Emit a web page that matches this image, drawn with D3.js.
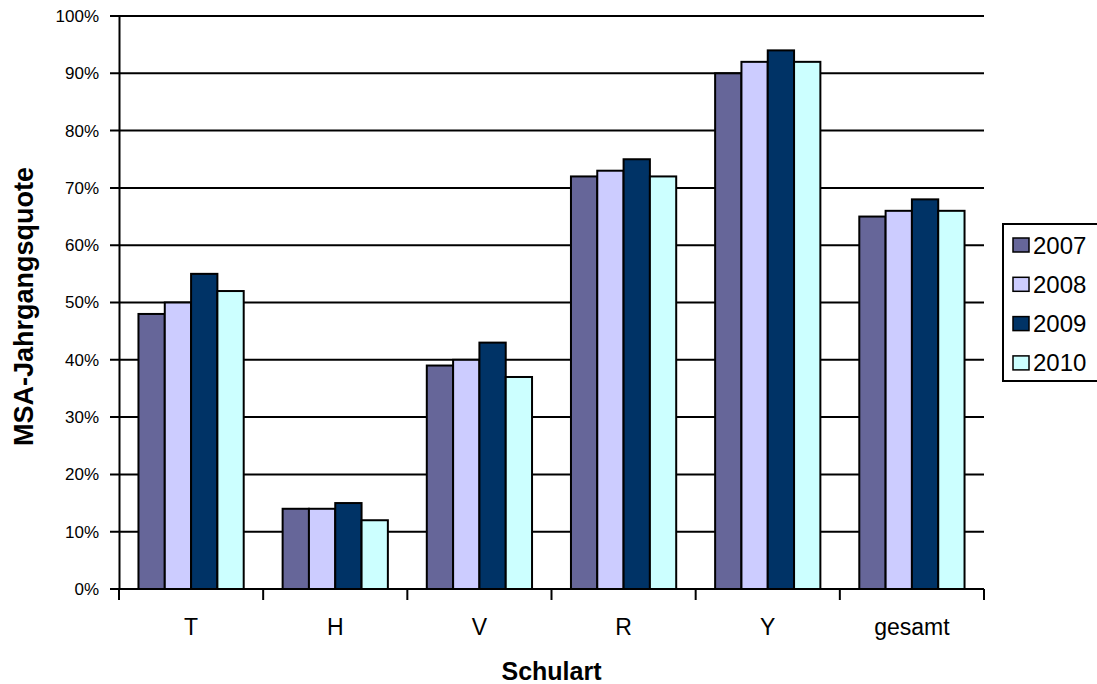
<!DOCTYPE html>
<html>
<head>
<meta charset="utf-8">
<script src="https://cdn.jsdelivr.net/npm/d3@7"></script>
<style>
  body { margin: 0; background: #fff; }
  svg { font-family: Arial, "Liberation Sans", sans-serif; }
</style>
</head>
<body>
<div id="chart"></div>
<script>
const categories = ['T', 'H', 'V', 'R', 'Y', 'gesamt'];
const years = ['2007', '2008', '2009', '2010'];
const v2007 = [48, 14, 39, 72, 90, 65];
const v2008 = [50, 14, 40, 73, 92, 66];
const v2009 = [55, 15, 43, 75, 94, 68];
const v2010 = [52, 12, 37, 72, 92, 66];
const yTicks = [0, 10, 20, 30, 40, 50, 60, 70, 80, 90, 100];

const seriesValues = [v2007, v2008, v2009, v2010];
const colors = ['#666699', '#CCCCFF', '#003366', '#CCFFFF'];

const svgWidth = 1097, svgHeight = 684;
const plotLeft = 119, plotRight = 984, plotTop = 16, plotBottom = 589;
const fontFamily = 'Arial, "Liberation Sans", sans-serif';

const svg = d3.select('#chart').append('svg')
  .attr('width', svgWidth)
  .attr('height', svgHeight);

const x = d3.scaleBand()
  .domain(categories)
  .range([plotLeft, plotRight])
  .paddingInner(0.27)
  .paddingOuter(0.135);

const xCat = d3.scaleBand()
  .domain(categories)
  .range([plotLeft, plotRight]);

const xSub = d3.scaleBand()
  .domain(years)
  .range([0, x.bandwidth()]);

const y = d3.scaleLinear()
  .domain([0, 100])
  .range([plotBottom, plotTop]);

// gridlines
svg.append('g')
  .selectAll('line')
  .data(yTicks)
  .join('line')
    .attr('x1', plotLeft - 9)
    .attr('x2', plotRight)
    .attr('y1', d => y(d))
    .attr('y2', d => y(d))
    .attr('stroke', '#000')
    .attr('stroke-width', 2);

// bars
const rows = [];
categories.forEach((c, i) => {
  years.forEach((yr, j) => rows.push({cat: c, year: yr, value: seriesValues[j][i], color: colors[j]}));
});

svg.append('g')
  .selectAll('rect')
  .data(rows)
  .join('rect')
    .attr('x', d => x(d.cat) + xSub(d.year))
    .attr('y', d => y(d.value))
    .attr('width', xSub.bandwidth())
    .attr('height', d => plotBottom - y(d.value))
    .attr('fill', d => d.color)
    .attr('stroke', '#000')
    .attr('stroke-width', 2);

// y axis
const yAxis = svg.append('g')
  .attr('transform', `translate(${plotLeft},0)`)
  .call(d3.axisLeft(y).tickValues(yTicks).tickFormat(d => d + '%').tickSize(0).tickPadding(20));
yAxis.select('.domain').attr('stroke-width', 2);
yAxis.selectAll('.tick text')
  .attr('font-size', 17)
  .attr('fill', '#000')
  .attr('font-family', fontFamily);

// x axis
const xAxis = svg.append('g')
  .attr('transform', `translate(0,${plotBottom})`)
  .call(d3.axisBottom(xCat).tickSize(0).tickPadding(30));
xAxis.select('.domain').attr('stroke-width', 2).attr('d', `M${plotLeft},0H${plotRight}`);
xAxis.selectAll('.tick text')
  .attr('font-size', 23)
  .attr('fill', '#000')
  .attr('font-family', fontFamily);

// category boundary ticks
svg.append('g')
  .selectAll('line')
  .data(d3.range(categories.length + 1))
  .join('line')
    .attr('x1', i => plotLeft + i * xCat.step())
    .attr('x2', i => plotLeft + i * xCat.step())
    .attr('y1', plotBottom)
    .attr('y2', plotBottom + 11)
    .attr('stroke', '#000')
    .attr('stroke-width', 2);

// axis titles
svg.append('text')
  .attr('x', (plotLeft + plotRight) / 2)
  .attr('y', 680)
  .attr('text-anchor', 'middle')
  .attr('font-size', 25)
  .attr('font-weight', 'bold')
  .text('Schulart');

svg.append('text')
  .attr('transform', `translate(33,${(plotTop + plotBottom) / 2 + 4}) rotate(-90)`)
  .attr('text-anchor', 'middle')
  .attr('font-size', 27)
  .attr('font-weight', 'bold')
  .text('MSA-Jahrgangsquote');

// legend
const legend = svg.append('g').attr('transform', 'translate(1003,224)');
legend.append('rect')
  .attr('x', 0).attr('y', 0)
  .attr('width', 120).attr('height', 157)
  .attr('fill', '#fff')
  .attr('stroke', '#000')
  .attr('stroke-width', 2);

const items = legend.selectAll('.item')
  .data(years)
  .join('g')
    .attr('class', 'item')
    .attr('transform', (d, i) => `translate(0,${21 + i * 39.3})`);
items.append('rect')
  .attr('x', 10).attr('y', -7)
  .attr('width', 16).attr('height', 14)
  .attr('fill', (d, i) => colors[i])
  .attr('stroke', '#000')
  .attr('stroke-width', 1.5);
items.append('text')
  .attr('x', 30)
  .attr('y', 8.5)
  .attr('font-size', 24)
  .text(d => d);
</script>
</body>
</html>
